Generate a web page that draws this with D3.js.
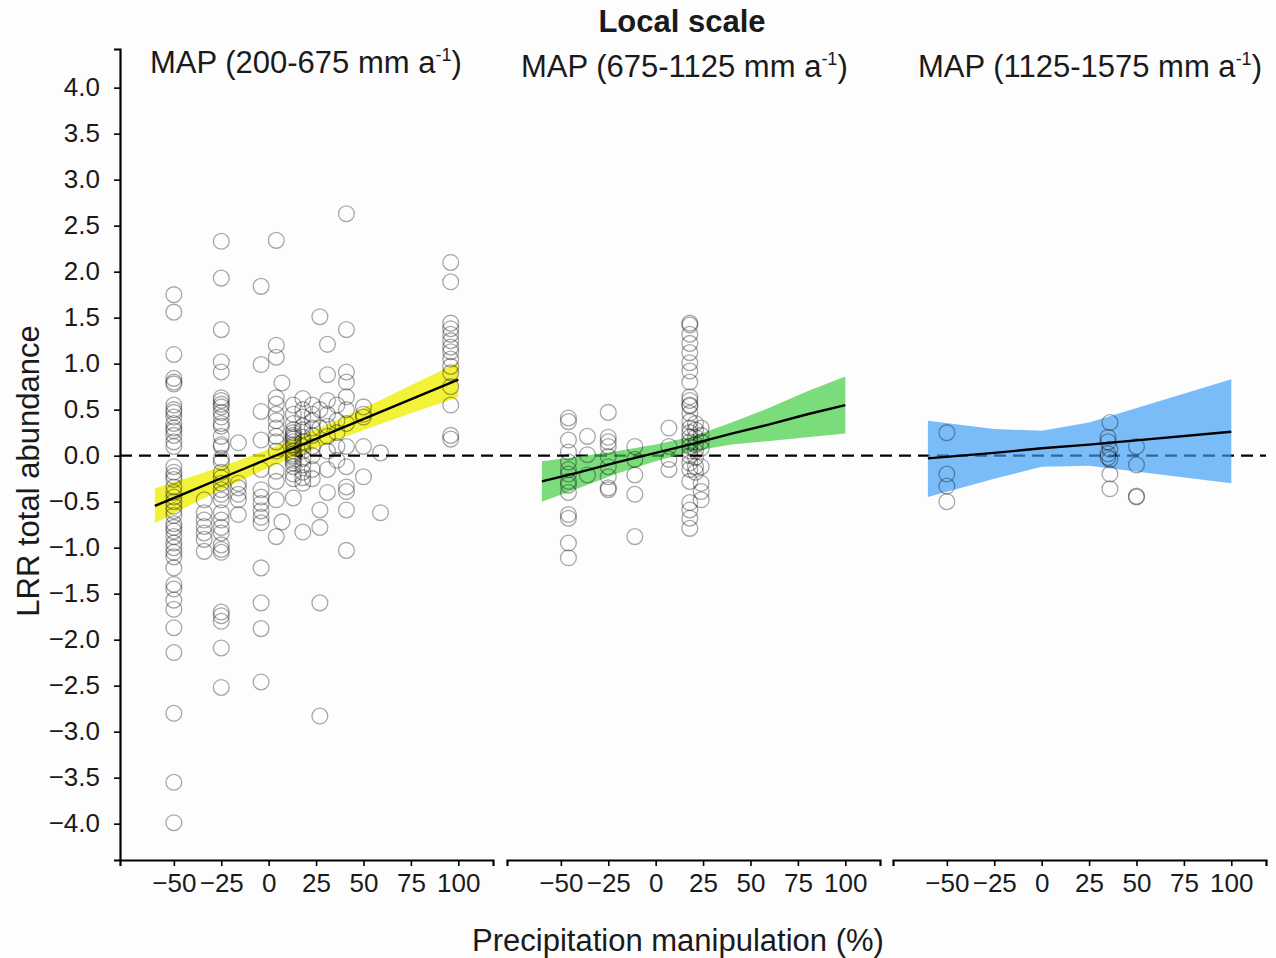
<!DOCTYPE html>
<html>
<head>
<meta charset="utf-8">
<script src="https://cdn.jsdelivr.net/npm/d3@7"></script>
<style>
  body { margin: 0; background: #fdfdfd; }
  svg { display: block; font-family: "Liberation Sans", Arial, sans-serif; }
</style>
</head>
<body>
<div class="chart"></div>
<script>
'use strict';

// tick labels
var xTicks = [-50, -25, 0, 25, 50, 75, 100];
var yTicks = [-4, -3.5, -3, -2.5, -2, -1.5, -1, -0.5, 0, 0.5, 1, 1.5, 2, 2.5, 3, 3.5, 4];

var mainTitle = "Local scale";
var mapRanges = ["200-675", "675-1125", "1125-1575"];
var xTitle = "Precipitation manipulation (%)";
var yTitle = "LRR total abundance";
var ribbonColors = ["#eeee00", "#3ccc3c", "#3b9cf5"];

// points: [precipitation %, LRR]
var points1 = [
    [-50, 1.75], [-50, 1.56], [-50, 1.1], [-50, 0.84], [-50, 0.8], [-50, 0.78], [-50, 0.55], [-50, 0.5],
    [-50, 0.47], [-50, 0.42], [-50, 0.35], [-50, 0.3], [-50, 0.27], [-50, 0.22], [-50, 0.15], [-50, 0.1],
    [-50, -0.12], [-50, -0.18], [-50, -0.22], [-50, -0.26], [-50, -0.34], [-50, -0.4], [-50, -0.45], [-50, -0.5],
    [-50, -0.55], [-50, -0.6], [-50, -0.65], [-50, -0.74], [-50, -0.78], [-50, -0.82], [-50, -0.88], [-50, -0.95],
    [-50, -1.0], [-50, -1.05], [-50, -1.1], [-50, -1.22], [-50, -1.4], [-50, -1.45], [-50, -1.57], [-50, -1.67],
    [-50, -1.87], [-50, -2.14], [-50, -2.8], [-50, -3.55], [-50, -3.99],
    [-34, -0.48], [-34, -0.62], [-34, -0.7], [-34, -0.77], [-34, -0.84], [-34, -0.91], [-34, -1.04],
    [-25, 2.33], [-25, 1.93], [-25, 1.37], [-25, 1.02], [-25, 0.91], [-25, 0.63], [-25, 0.6], [-25, 0.56],
    [-25, 0.53], [-25, 0.47], [-25, 0.42], [-25, 0.35], [-25, 0.32], [-25, 0.21], [-25, 0.12], [-25, 0.1],
    [-25, -0.03], [-25, -0.07], [-25, -0.18], [-25, -0.24], [-25, -0.3], [-25, -0.37], [-25, -0.42], [-25, -0.48],
    [-25, -0.62], [-25, -0.7], [-25, -0.78], [-25, -0.84], [-25, -0.97], [-25, -1.02], [-25, -1.05], [-25, -1.7],
    [-25, -1.74], [-25, -1.8], [-25, -2.09], [-25, -2.52],
    [-16, 0.14], [-16, -0.3], [-16, -0.35], [-16, -0.42], [-16, -0.48], [-16, -0.64],
    [-4, 1.84], [-4, 0.99], [-4, 0.48], [-4, 0.17], [-4, -0.15], [-4, -0.37], [-4, -0.45], [-4, -0.52],
    [-4, -0.6], [-4, -0.67], [-4, -0.73], [-4, -1.22], [-4, -1.6], [-4, -1.88], [-4, -2.46],
    [4, 2.34], [4, 1.2], [4, 1.07], [4, 0.63], [4, 0.56], [4, 0.45], [4, 0.38], [4, 0.3],
    [4, 0.21], [4, 0.15], [4, 0.05], [4, -0.17], [4, -0.28], [4, -0.48], [4, -0.88],
    [7, 0.79], [7, -0.72],
    [13, 0.55], [13, 0.45], [13, 0.35], [13, 0.28], [13, 0.25], [13, 0.22], [13, 0.2], [13, 0.18],
    [13, 0.15], [13, 0.12], [13, 0.1], [13, 0.05], [13, 0.02], [13, 0.0], [13, -0.02], [13, -0.05],
    [13, -0.08], [13, -0.12], [13, -0.2], [13, -0.25], [13, -0.46],
    [18, 0.62], [18, 0.5], [18, 0.42], [18, 0.32], [18, 0.28], [18, 0.2], [18, 0.15], [18, 0.1],
    [18, 0.05], [18, -0.03], [18, -0.1], [18, -0.18], [18, -0.24], [18, -0.3], [18, -0.83],
    [23, 0.55], [23, 0.45], [23, 0.38], [23, 0.3], [23, 0.22], [23, 0.1], [23, 0.0], [23, -0.15], [23, -0.25],
    [27, 1.51], [27, 0.5], [27, 0.3], [27, -0.59], [27, -0.78], [27, -1.6], [27, -2.83],
    [31, 1.21], [31, 0.88], [31, 0.6], [31, 0.45], [31, 0.32], [31, 0.21], [31, 0.05], [31, -0.15], [31, -0.4],
    [36, 0.55], [36, 0.38], [36, 0.25], [36, 0.1], [36, -0.05],
    [41, 2.63], [41, 1.37], [41, 0.91], [41, 0.8], [41, 0.64], [41, 0.5], [41, 0.35], [41, 0.1],
    [41, -0.12], [41, -0.34], [41, -0.39], [41, -0.59], [41, -1.03],
    [50, 0.53], [50, 0.45], [50, 0.42], [50, 0.1], [50, -0.23],
    [59, 0.03], [59, -0.62],
    [96, 2.1], [96, 1.89], [96, 1.44], [96, 1.38], [96, 1.32], [96, 1.25], [96, 1.18], [96, 1.13],
    [96, 1.05], [96, 0.97], [96, 0.9], [96, 0.75], [96, 0.55], [96, 0.22], [96, 0.18]
];

var points2 = [
    [-46, 0.41], [-46, 0.37], [-46, 0.17], [-46, 0.04], [-46, -0.07], [-46, -0.15], [-46, -0.2], [-46, -0.28],
    [-46, -0.32], [-46, -0.4], [-46, -0.64], [-46, -0.68], [-46, -0.95], [-46, -1.11],
    [-36, 0.21], [-36, 0.01], [-36, -0.21],
    [-25, 0.47], [-25, 0.2], [-25, 0.15], [-25, 0.1], [-25, -0.01], [-25, -0.12], [-25, -0.23], [-25, -0.35], [-25, -0.37],
    [-11, 0.1], [-11, -0.04], [-11, -0.21], [-11, -0.42], [-11, -0.88],
    [7, 0.3], [7, 0.1], [7, -0.04], [7, -0.15],
    [18, 1.44], [18, 1.42], [18, 1.32], [18, 1.22], [18, 1.12], [18, 1.01], [18, 0.92], [18, 0.8],
    [18, 0.64], [18, 0.6], [18, 0.55], [18, 0.54], [18, 0.46], [18, 0.37], [18, 0.3], [18, 0.25],
    [18, 0.2], [18, 0.15], [18, 0.1], [18, 0.05], [18, 0.0], [18, -0.08], [18, -0.15], [18, -0.28],
    [18, -0.51], [18, -0.59], [18, -0.68], [18, -0.79],
    [21, 0.35], [21, 0.28], [21, 0.2], [21, 0.12], [21, 0.05], [21, -0.02], [21, -0.12], [21, -0.18],
    [24, 0.3], [24, 0.22], [24, 0.15], [24, 0.08], [24, -0.12], [24, -0.3], [24, -0.39], [24, -0.48]
];

var points3 = [
    [-50, 0.25], [-50, -0.2], [-50, -0.33], [-50, -0.5],
    [35, 0.2], [35, 0.15], [35, 0.02], [35, -0.02],
    [36, 0.36], [36, 0.07], [36, -0.04], [36, -0.2], [36, -0.36],
    [50, 0.1], [50, -0.1], [50, -0.44], [50, -0.45]
];

// fitted line and confidence band
var fitX1 = [-60, -40, -20, 0, 20, 40, 60, 80, 100];
var fit1 = [-0.545, -0.374, -0.202, -0.031, 0.14, 0.312, 0.483, 0.655, 0.826];
var lower1 = [-0.735, -0.524, -0.322, -0.131, 0.04, 0.202, 0.353, 0.495, 0.636];
var upper1 = [-0.355, -0.224, -0.082, 0.069, 0.24, 0.422, 0.613, 0.815, 1.016];

var fitX2 = [-60, -40, -20, 0, 20, 40, 60, 80, 100];
var fit2 = [-0.28, -0.18, -0.07, 0.03, 0.13, 0.24, 0.34, 0.45, 0.55];
var lower2 = [-0.5, -0.35, -0.19, -0.06, 0.05, 0.12, 0.16, 0.2, 0.24];
var upper2 = [-0.06, -0.01, 0.05, 0.12, 0.21, 0.36, 0.52, 0.7, 0.86];

var fitX3 = [-60, -25, 0, 25, 100];
var fit3 = [-0.03, 0.03, 0.08, 0.12, 0.26];
var lower3 = [-0.45, -0.25, -0.12, -0.11, -0.3];
var upper3 = [0.38, 0.29, 0.27, 0.36, 0.83];

var panels = [
    {points: points1, fx: fitX1, fit: fit1, lo: lower1, hi: upper1},
    {points: points2, fx: fitX2, fit: fit2, lo: lower2, hi: upper2},
    {points: points3, fx: fitX3, fit: fit3, lo: lower3, hi: upper3}
];

var width = 1276, height = 958;
var panelLeft = [120, 507, 893];
var panelWidth = 373;
var panelTop = 49, panelBottom = 860;
var titlePos = [[150, 73], [521, 77], [918, 77]];

var svg = d3.select(".chart").append("svg")
    .attr("width", width)
    .attr("height", height);

svg.append("rect").attr("width", width).attr("height", height).attr("fill", "#fdfdfd");

var x = d3.scaleLinear().domain([-78.4, 118.3]).range([0, panelWidth]);
var y = d3.scaleLinear().domain([-4.395, 4.42]).range([panelBottom, panelTop]);

// zero reference line across all panels
svg.append("line")
    .attr("x1", panelLeft[0]).attr("x2", panelLeft[2] + panelWidth)
    .attr("y1", y(0)).attr("y2", y(0))
    .attr("stroke", "#000")
    .attr("stroke-width", 2.2)
    .attr("stroke-dasharray", "12,7");

panels.forEach(function (p, i) {
    var g = svg.append("g").attr("transform", "translate(" + panelLeft[i] + ",0)");

    var band = p.fx.map(function (d, j) {
        return {x: d, lo: p.lo[j], hi: p.hi[j], fit: p.fit[j]};
    });

    g.append("path")
        .datum(band)
        .attr("fill", ribbonColors[i])
        .attr("fill-opacity", i === 0 ? 0.78 : 0.68)
        .attr("d", d3.area()
            .x(function (d) { return x(d.x); })
            .y0(function (d) { return y(d.lo); })
            .y1(function (d) { return y(d.hi); }));

    g.append("g")
        .selectAll("circle")
        .data(p.points)
        .enter().append("circle")
        .attr("cx", function (d) { return x(d[0]); })
        .attr("cy", function (d) { return y(d[1]); })
        .attr("r", 7.9)
        .attr("fill", "none")
        .attr("stroke", "#000")
        .attr("stroke-opacity", 0.34)
        .attr("stroke-width", 1.3);

    g.append("path")
        .datum(band)
        .attr("fill", "none")
        .attr("stroke", "#000")
        .attr("stroke-width", 2.4)
        .attr("d", d3.line()
            .x(function (d) { return x(d.x); })
            .y(function (d) { return y(d.fit); }));

    var xAxis = g.append("g")
        .attr("transform", "translate(0," + panelBottom + ")")
        .call(d3.axisBottom(x).tickValues(xTicks).tickSizeOuter(0).tickSize(6).tickPadding(8));
    xAxis.select(".domain").attr("stroke-width", 2.2);
    xAxis.selectAll(".tick line").attr("stroke-width", 1.6);
    xAxis.selectAll("text").attr("font-size", 26).attr("fill", "#1a1a1a")
        .attr("font-family", "Liberation Sans, Arial, sans-serif");

    // panel title with superscript
    var t = svg.append("text")
        .attr("x", titlePos[i][0]).attr("y", titlePos[i][1])
        .attr("font-size", 31).attr("fill", "#1a1a1a");
    t.append("tspan").text("MAP (" + mapRanges[i] + " mm a");
    t.append("tspan").attr("font-size", 18).attr("dy", -12).text("-1");
    t.append("tspan").attr("dy", 12).text(")");
});

var yAxis = svg.append("g")
    .attr("transform", "translate(" + panelLeft[0] + ",0)")
    .call(d3.axisLeft(y).tickValues(yTicks).tickFormat(d3.format(".1f")).tickSizeOuter(0).tickSize(6).tickPadding(14));
yAxis.select(".domain").attr("stroke-width", 2.2);
yAxis.selectAll(".tick line").attr("stroke-width", 1.6);
yAxis.selectAll("text").attr("font-size", 26).attr("fill", "#1a1a1a")
    .attr("font-family", "Liberation Sans, Arial, sans-serif");

svg.append("text")
    .attr("x", 682).attr("y", 32)
    .attr("text-anchor", "middle")
    .attr("font-size", 31).attr("font-weight", "bold").attr("fill", "#1a1a1a")
    .text(mainTitle);

svg.append("text")
    .attr("x", 678).attr("y", 951)
    .attr("text-anchor", "middle")
    .attr("font-size", 31).attr("fill", "#1a1a1a")
    .text(xTitle);

svg.append("text")
    .attr("transform", "translate(39,471) rotate(-90)")
    .attr("text-anchor", "middle")
    .attr("font-size", 31).attr("fill", "#1a1a1a")
    .text(yTitle);
</script>
</body>
</html>
